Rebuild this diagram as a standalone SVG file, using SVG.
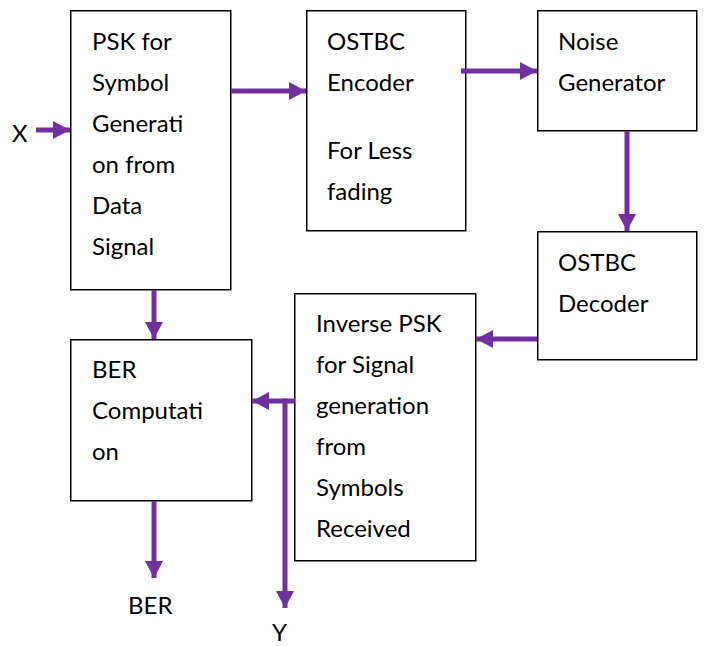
<svg xmlns="http://www.w3.org/2000/svg" width="710" height="646" viewBox="0 0 710 646">
  <style>
    .box { fill: #ffffff; stroke: #000000; stroke-width: 1.5; }
    .lbl { font-family: Lato, "Open Sans", "Liberation Sans", sans-serif; font-size: 24px; fill: #000000; }
    .wire { fill: none; stroke: #7030A0; stroke-width: 5; }
  </style>
  <defs>
    <marker id="head" markerUnits="userSpaceOnUse" markerWidth="18" markerHeight="18" refX="17" refY="9" orient="auto">
      <path d="M0,0 L17,9 L0,18 Z" fill="#7030A0"/>
    </marker>
  </defs>
  <rect width="710" height="646" fill="#ffffff"/>

  <g id="psk">
    <rect class="box" x="70.75" y="10.75" width="160" height="279"/>
    <text class="lbl" x="92" y="50">PSK for</text>
    <text class="lbl" x="92" y="91">Symbol</text>
    <text class="lbl" x="92" y="132">Generati</text>
    <text class="lbl" x="92" y="173">on from</text>
    <text class="lbl" x="92" y="214">Data</text>
    <text class="lbl" x="92" y="255">Signal</text>
  </g>

  <g id="encoder">
    <rect class="box" x="306.75" y="10.75" width="159" height="220"/>
    <text class="lbl" x="327" y="50">OSTBC</text>
    <text class="lbl" x="327" y="91">Encoder</text>
    <text class="lbl" x="327" y="159">For Less</text>
    <text class="lbl" x="327" y="200">fading</text>
  </g>

  <g id="noise">
    <rect class="box" x="537.75" y="10.75" width="159" height="120"/>
    <text class="lbl" x="558" y="50">Noise</text>
    <text class="lbl" x="558" y="91">Generator</text>
  </g>

  <g id="decoder">
    <rect class="box" x="537.75" y="231.75" width="159" height="128"/>
    <text class="lbl" x="558" y="271">OSTBC</text>
    <text class="lbl" x="558" y="312">Decoder</text>
  </g>

  <g id="inverse">
    <rect class="box" x="294.75" y="293.75" width="181" height="267"/>
    <text class="lbl" x="316" y="332">Inverse PSK</text>
    <text class="lbl" x="316" y="373">for Signal</text>
    <text class="lbl" x="316" y="414">generation</text>
    <text class="lbl" x="316" y="455">from</text>
    <text class="lbl" x="316" y="496">Symbols</text>
    <text class="lbl" x="316" y="537">Received</text>
  </g>

  <g id="ber">
    <rect class="box" x="70.75" y="339.75" width="181" height="161"/>
    <text class="lbl" x="92" y="378">BER</text>
    <text class="lbl" x="92" y="419">Computati</text>
    <text class="lbl" x="92" y="460">on</text>
  </g>

  <g id="terminals">
    <text class="lbl" x="12" y="142">X</text>
    <text class="lbl" x="128" y="614">BER</text>
    <text class="lbl" x="272" y="641">Y</text>
  </g>

  <g id="connectors">
    <line class="wire" x1="36" y1="130" x2="70" y2="130" marker-end="url(#head)"/>
    <line class="wire" x1="231" y1="91" x2="306" y2="91" marker-end="url(#head)"/>
    <line class="wire" x1="461" y1="71" x2="537" y2="71" marker-end="url(#head)"/>
    <line class="wire" x1="627" y1="131" x2="627" y2="231" marker-end="url(#head)"/>
    <line class="wire" x1="537" y1="339" x2="476" y2="339" marker-end="url(#head)"/>
    <line class="wire" x1="154" y1="290" x2="154" y2="339" marker-end="url(#head)"/>
    <line class="wire" x1="295" y1="401" x2="252" y2="401" marker-end="url(#head)"/>
    <line class="wire" x1="285" y1="398.5" x2="285" y2="608" marker-end="url(#head)"/>
    <line class="wire" x1="154" y1="501" x2="154" y2="578" marker-end="url(#head)"/>
  </g>
</svg>
